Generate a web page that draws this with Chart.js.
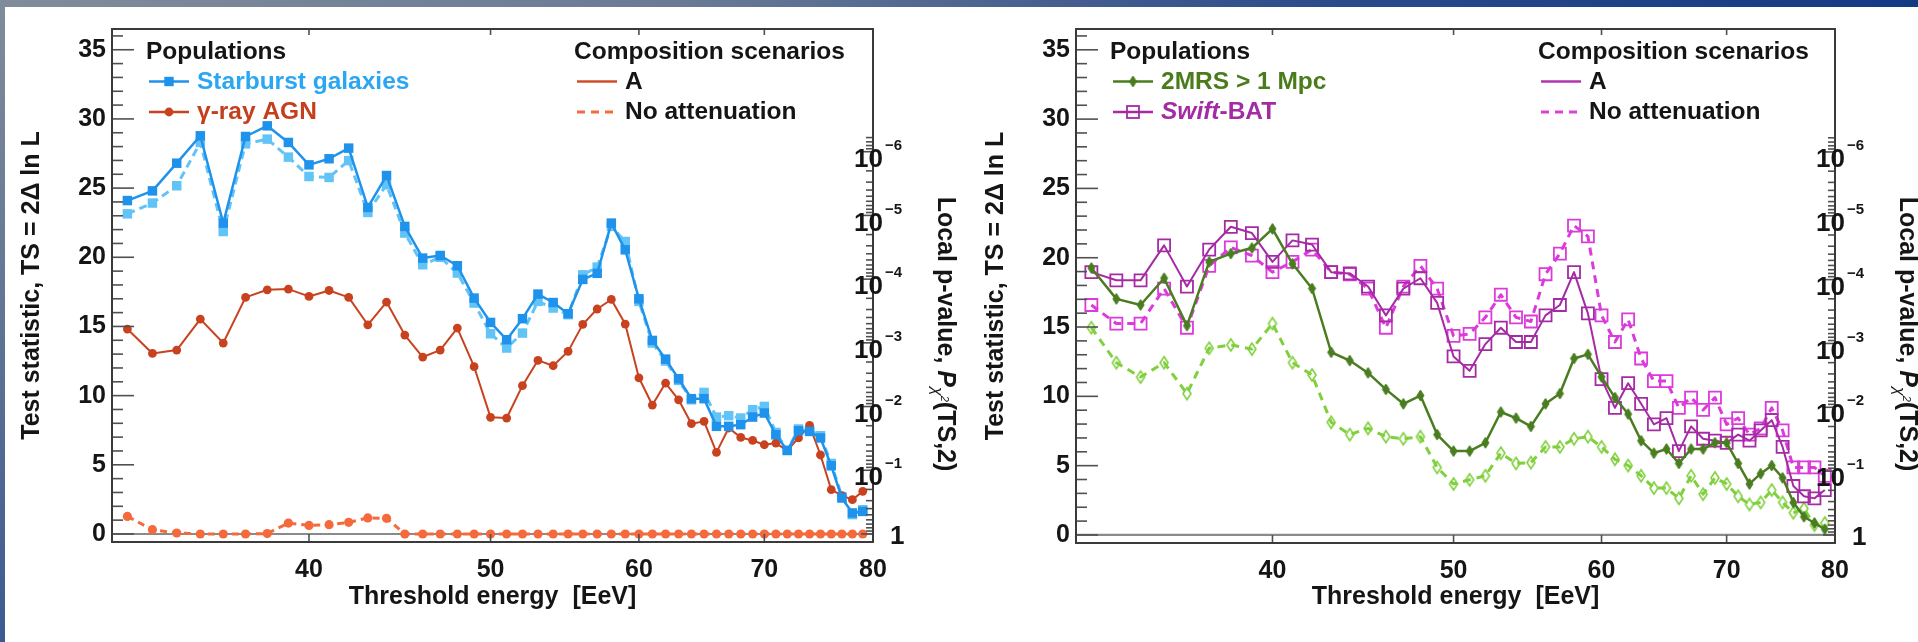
<!DOCTYPE html>
<html>
<head>
<meta charset="utf-8">
<script src="https://cdn.jsdelivr.net/npm/chart.js@4.4.1/dist/chart.umd.min.js"></script>
<style>
  html, body { margin: 0; padding: 0; background: #fff; width: 1918px; height: 642px; overflow: hidden; }
  #topbar { position: absolute; left: 0; top: 0; width: 1918px; height: 7px; z-index: 2;
    background: linear-gradient(to right, #808c9a 0%, #6b7b95 35%, #2a4a8a 70%, #143a84 100%); }
  #leftbar { position: absolute; left: 0; top: 0; width: 5px; height: 642px; z-index: 2;
    background: linear-gradient(to bottom, #808c9a 0%, #5a6f93 60%, #3c5a92 100%); }
  canvas { position: absolute; top: 0; }
</style>
</head>
<body>
<div id="topbar"></div>
<div id="leftbar"></div>
<canvas id="panelLeft" width="960" height="642" style="left:0px"></canvas>
<canvas id="panelRight" width="958" height="642" style="left:960px"></canvas>
<script>
// Threshold energies of the scan [EeV]
const energies = [32,33,34,35,36,37,38,39,40,41,42,43,44,45,46,47,48,49,50,51,52,53,54,55,
                  56,57,58,59,60,61,62,63,64,65,66,67,68,69,70,71,72,73,74,75,76,77,78,79];

// Axis ticks
const xTickValues = [40, 50, 60, 70, 80];
const yTickValues = [0, 5, 10, 15, 20, 25, 30, 35];
const pValueExponents = [0, 1, 2, 3, 4, 5, 6];   // local p-value = 10^-k

// Test statistic, starburst galaxies
const starburstA      = [24.10,24.80,26.80,28.78,22.47,28.73,29.50,28.30,26.68,27.12,27.89,23.60,
                         25.91,22.23,19.94,20.13,19.39,17.05,15.29,14.04,15.56,17.34,16.73,15.92,
                         18.40,18.84,22.47,20.54,17.00,13.99,12.64,11.22,9.78,9.78,7.78,7.78,
                         7.90,8.45,8.74,7.17,6.04,7.46,7.41,6.94,4.93,2.60,1.52,1.63];
const starburstNoAtt  = [23.14,23.92,25.17,28.30,21.86,28.20,28.54,27.24,25.84,25.77,26.99,23.24,
                         25.24,21.75,19.46,20.00,18.86,16.69,14.47,13.44,14.52,16.81,16.33,15.85,
                         18.73,19.29,22.23,21.14,16.81,13.80,12.50,11.10,9.70,10.23,8.45,8.55,
                         8.38,8.98,9.22,7.34,6.04,7.59,7.50,7.10,5.10,2.70,1.40,1.75];
// Test statistic, gamma-ray AGN
const agnA            = [14.81,13.05,13.29,15.53,13.80,17.10,17.65,17.70,17.17,17.60,17.10,15.12,
                         16.76,14.38,12.79,13.29,14.88,12.09,8.43,8.38,10.72,12.55,12.16,13.20,
                         15.15,16.26,16.95,15.17,11.29,9.32,10.91,9.70,7.97,8.14,5.90,7.66,
                         6.98,6.76,6.45,6.57,6.02,6.94,7.85,5.71,3.20,2.77,2.48,3.08];
const agnNoAtt        = [1.27,0.31,0.07,0,0,0,0.03,0.79,0.62,0.67,0.84,1.16,
                         1.13,0,0,0,0,0,0,0,0,0,0,0,
                         0,0,0,0,0,0,0,0,0,0,0,0,
                         0,0,0,0,0,0,0,0,0,0,0,0];
// Test statistic, 2MRS galaxies beyond 1 Mpc
const mrsA            = [19.26,17.03,16.59,18.52,15.10,19.70,20.30,20.70,22.08,19.56,17.78,13.18,
                         12.58,11.69,10.50,9.46,10.06,7.24,6.05,6.05,6.65,8.87,8.43,7.83,
                         9.46,10.20,12.73,13.03,11.40,9.91,8.72,6.80,5.90,6.20,5.16,6.20,
                         6.20,6.65,6.65,5.16,3.68,4.42,5.01,4.12,2.34,1.31,0.86,0.42];
const mrsNoAtt        = [14.95,12.43,11.39,12.43,10.20,13.47,13.71,13.41,15.25,12.43,11.54,8.13,
                         7.24,7.69,7.09,6.94,7.09,4.87,3.68,3.98,4.27,5.90,5.16,5.22,
                         6.35,6.35,6.94,7.09,6.35,5.46,5.01,4.27,3.38,3.38,2.64,4.27,
                         2.94,4.12,3.68,2.79,2.20,2.35,3.24,2.35,1.60,1.90,0.71,0.86];
// Test statistic, Swift-BAT AGN
const batA            = [18.96,18.37,18.37,20.89,17.92,20.59,22.23,21.78,19.70,21.25,20.95,18.96,
                         18.87,17.92,15.84,17.77,18.52,16.74,12.88,11.84,13.77,14.95,13.92,13.92,
                         15.84,16.59,18.96,15.99,11.24,9.17,10.95,9.46,7.98,8.43,6.05,7.83,
                         6.94,6.80,6.65,7.24,6.80,7.54,8.28,6.35,3.53,2.79,2.64,3.24];
const batNoAtt        = [16.59,15.25,15.25,17.77,14.95,19.41,20.74,20.15,18.96,19.70,20.59,18.96,
                         18.81,17.77,14.95,17.92,19.41,17.77,14.36,14.50,15.70,17.33,15.70,15.40,
                         18.81,20.30,22.32,21.54,15.84,13.92,15.55,12.73,11.10,11.10,9.17,9.91,
                         9.02,9.91,7.98,8.43,7.24,7.69,9.17,7.54,4.87,4.87,4.87,4.27];

const FONT = '"Liberation Sans", Arial, Helvetica, sans-serif';
const INK = '#151515';
const TS_PER_DECADE = 2 * Math.LN10;   // TS = -2 ln p for a chi2 with 2 dof
const P_AXIS_TOP_TS = 28.7;

// Marker sprites: thin diamonds
function diamondSprite(w, h, fill, stroke, lw) {
  const c = document.createElement('canvas');
  c.width = Math.ceil(w + 4); c.height = Math.ceil(h + 4);
  const g = c.getContext('2d');
  const cx = c.width / 2, cy = c.height / 2;
  g.beginPath();
  g.moveTo(cx, cy - h / 2); g.lineTo(cx + w / 2, cy); g.lineTo(cx, cy + h / 2); g.lineTo(cx - w / 2, cy);
  g.closePath();
  if (fill) { g.fillStyle = fill; g.fill(); }
  if (stroke) { g.strokeStyle = stroke; g.lineWidth = lw; g.stroke(); }
  return c;
}

const COL = {
  sbgA: '#1f92ec', sbgNA: '#62c4f6', sbgText: '#2ba6f2',
  agnA: '#c9421f', agnNA: '#f46a3c', agnText: '#c63f1c',
  mrsA: '#4a7d20', mrsNA: '#80d03e', mrsText: '#4a7c1c',
  batA: '#a52ba5', batNA: '#db3bdb', batText: '#a32ca3'
};
const mrsDiamond = diamondSprite(7, 11, COL.mrsA, COL.mrsA, 1);
const mrsOpenDiamond = diamondSprite(8, 12, null, COL.mrsNA, 1.6);

function series(values, opts) {
  return Object.assign({
    data: energies.map((e, i) => ({ x: e, y: values[i] })),
    fill: false, tension: 0, borderJoinStyle: 'round'
  }, opts);
}

function drawLine(ctx, x1, y1, x2, y2) {
  ctx.beginPath(); ctx.moveTo(x1, y1); ctx.lineTo(x2, y2); ctx.stroke();
}

function drawMarker(ctx, kind, x, y, color) {
  ctx.save();
  if (kind === 'square') {
    ctx.fillStyle = color; ctx.fillRect(x - 4.7, y - 4.7, 9.4, 9.4);
  } else if (kind === 'circle') {
    ctx.fillStyle = color; ctx.beginPath(); ctx.arc(x, y, 4.4, 0, Math.PI * 2); ctx.fill();
  } else if (kind === 'openSquare') {
    ctx.strokeStyle = color; ctx.lineWidth = 1.8; ctx.strokeRect(x - 6, y - 6, 12, 12);
  } else if (kind === 'diamond') {
    ctx.drawImage(mrsDiamond, x - mrsDiamond.width / 2, y - mrsDiamond.height / 2);
  }
  ctx.restore();
}

function drawPieces(ctx, x, y, pieces) {
  let cx = x;
  for (const p of pieces) {
    ctx.font = p.font; ctx.fillStyle = p.color;
    ctx.fillText(p.text, cx, y);
    cx += ctx.measureText(p.text).width;
  }
}

// Frame, tick marks, p-value axis, titles and legend of one panel
const decorPlugin = {
  id: 'decor',
  beforeDatasetsDraw(chart) {
    const { ctx, chartArea: a, scales: { y } } = chart;
    const y0 = y.getPixelForValue(0);
    ctx.save();
    ctx.strokeStyle = '#8a8a8a'; ctx.lineWidth = 2.2;
    drawLine(ctx, a.left, y0, a.right, y0);
    ctx.restore();
  },
  afterDraw(chart) {
    const { ctx, chartArea: a, scales: { x, y, p } } = chart;
    const cfg = chart.options.plugins.decor;
    ctx.save();
    // tick marks
    ctx.strokeStyle = '#505050'; ctx.lineWidth = 1.6;
    for (let v = 0; v <= 36; v++) {
      const yy = y.getPixelForValue(v);
      drawLine(ctx, a.left, yy, a.left + (v % 5 === 0 ? 22 : 11), yy);
    }
    for (const v of xTickValues) {
      const xx = x.getPixelForValue(v);
      drawLine(ctx, xx, a.bottom, xx, a.bottom - 8);
      drawLine(ctx, xx, a.top, xx, a.top + 6);
    }
    // p-value axis ticks (decades and sub-decades)
    for (const k of pValueExponents) {
      const yy = p.getPixelForValue(k * TS_PER_DECADE);
      drawLine(ctx, a.right - 12, yy, a.right, yy);
    }
    for (let k = 1; k <= 7; k++) {
      for (let m = 2; m <= 9; m++) {
        const ts = 2 * (k * Math.LN10 - Math.log(m));
        if (ts < 0 || ts > P_AXIS_TOP_TS) continue;
        const yy = p.getPixelForValue(ts);
        drawLine(ctx, a.right - 7, yy, a.right, yy);
      }
    }
    // frame
    ctx.strokeStyle = '#3a3a3a'; ctx.lineWidth = 2;
    ctx.strokeRect(a.left, a.top, a.right - a.left, a.bottom - a.top);

    // p-value axis labels
    ctx.fillStyle = INK; ctx.textBaseline = 'middle'; ctx.textAlign = 'left';
    for (const k of pValueExponents) {
      const yy = p.getPixelForValue(k * TS_PER_DECADE);
      if (k === 0) {
        ctx.font = `bold 26px ${FONT}`;
        ctx.fillText('1', a.right + 17, yy + 2.5);
      } else {
        ctx.font = `bold 26px ${FONT}`;
        ctx.fillText('10', a.right - 19, yy + 8);
        ctx.font = `bold 15px ${FONT}`;
        ctx.fillText('\u2212' + k, a.right + 12, yy - 6);
      }
    }

    // p-value axis title, rotated clockwise
    const titleParts = [
      { text: 'Local p-value, ', font: `bold 25px ${FONT}`, dy: 0 },
      { text: 'P', font: `italic bold 25px ${FONT}`, dy: 0 },
      { text: '\u03C7', font: `italic 16px ${FONT}`, dy: 6 },
      { text: '2', font: `italic 11px ${FONT}`, dy: -3 },
      { text: '(TS,2)', font: `bold 25px ${FONT}`, dy: 0 }
    ];
    let total = 0;
    for (const t of titleParts) { ctx.font = t.font; total += ctx.measureText(t.text).width; }
    ctx.save();
    ctx.translate(a.right + 65, 334);
    ctx.rotate(Math.PI / 2);
    ctx.textBaseline = 'alphabetic';
    let u = -total / 2;
    for (const t of titleParts) {
      ctx.font = t.font; ctx.fillStyle = INK;
      ctx.fillText(t.text, u, t.dy);
      u += ctx.measureText(t.text).width;
    }
    ctx.restore();

    // legend
    const L = cfg.legend;
    ctx.textBaseline = 'alphabetic'; ctx.textAlign = 'left';
    const baseH = a.top + 30, row1 = a.top + 59.5, row2 = a.top + 90;
    const bold = `bold 24.5px ${FONT}`, boldIt = `italic bold 24.5px ${FONT}`;
    ctx.font = bold; ctx.fillStyle = INK;
    ctx.fillText('Populations', a.left + 34, baseH);
    ctx.fillText('Composition scenarios', a.left + 462, baseH);
    [row1, row2].forEach((by, i) => {
      const e = L.populations[i];
      const ly = by - 7;
      ctx.strokeStyle = e.color; ctx.lineWidth = 2.4; ctx.setLineDash([]);
      drawLine(ctx, a.left + 37, ly, a.left + 77, ly);
      drawMarker(ctx, e.marker, a.left + 57, ly, e.color);
      drawPieces(ctx, a.left + 85, by, e.label.map(s => ({ text: s.text, font: s.italic ? boldIt : bold, color: e.textColor })));
      const s = L.scenarios[i];
      ctx.strokeStyle = s.color; ctx.lineWidth = s.dash ? 3 : 2.4;
      ctx.setLineDash(s.dash ? [8, 6] : []);
      drawLine(ctx, a.left + 465, ly, a.left + 505, ly);
      ctx.setLineDash([]);
      ctx.font = bold; ctx.fillStyle = INK;
      ctx.fillText(s.text, a.left + 513, by);
    });
    ctx.restore();
  }
};

function makePanel(canvasId, frame, datasets, legend) {
  const canvas = document.getElementById(canvasId);
  const W = canvas.width, H = canvas.height;
  const tickFont = { family: FONT, size: 25, weight: 'bold' };
  const titleFont = { family: FONT, size: 25, weight: 'bold' };
  return new Chart(canvas.getContext('2d'), {
    type: 'line',
    data: { datasets },
    options: {
      responsive: false, animation: false, devicePixelRatio: 1,
      layout: { padding: { left: 0, right: 0, top: frame.top, bottom: 0 }, autoPadding: false },
      events: [],
      plugins: { legend: { display: false }, tooltip: { enabled: false }, decor: { legend } },
      scales: {
        x: {
          type: 'logarithmic', min: 31.4, max: 80, position: 'bottom',
          afterBuildTicks: s => { s.ticks = xTickValues.map(v => ({ value: v })); },
          afterFit: s => { s.height = H - frame.bottom; },
          ticks: { callback: v => String(v), font: tickFont, color: INK, padding: 13,
                   autoSkip: false, maxRotation: 0, minRotation: 0 },
          grid: { display: false, drawTicks: false }, border: { display: false },
          title: { display: true, text: 'Threshold energy  [EeV]', font: titleFont, color: INK,
                   padding: { top: 0, bottom: 30 } }
        },
        y: {
          type: 'linear', min: -0.58, max: 36.5, position: 'left',
          afterBuildTicks: s => { s.ticks = yTickValues.map(v => ({ value: v })); },
          afterFit: s => { s.width = frame.left; },
          ticks: { font: tickFont, color: INK, padding: 6, autoSkip: false },
          grid: { display: false, drawTicks: false }, border: { display: false },
          title: { display: true, text: 'Test statistic, TS = 2\u0394 ln L', font: titleFont, color: INK,
                   padding: { top: frame.left - 95, bottom: 0 } }
        },
        p: {
          type: 'linear', min: -0.58, max: 36.5, position: 'right',
          afterBuildTicks: s => { s.ticks = pValueExponents.map(k => ({ value: k * TS_PER_DECADE })); },
          afterFit: s => { s.width = W - frame.right; },
          ticks: { display: false }, grid: { display: false, drawTicks: false }, border: { display: false }
        }
      }
    },
    plugins: [decorPlugin]
  });
}

// Left panel: starburst galaxies and gamma-ray AGN
makePanel('panelLeft', { left: 112, right: 873, top: 29, bottom: 542 }, [
  series(starburstA, { label: 'Starburst galaxies, A', borderColor: COL.sbgA, borderWidth: 2.5,
    pointStyle: 'rect', pointRadius: 6.7, pointBackgroundColor: COL.sbgA, pointBorderColor: COL.sbgA, pointBorderWidth: 0 }),
  series(agnA, { label: '\u03B3-ray AGN, A', borderColor: COL.agnA, borderWidth: 2,
    pointStyle: 'circle', pointRadius: 4.4, pointBackgroundColor: COL.agnA, pointBorderColor: COL.agnA, pointBorderWidth: 0 }),
  series(starburstNoAtt, { label: 'Starburst galaxies, no attenuation', borderColor: COL.sbgNA, borderWidth: 3,
    borderDash: [8, 5], pointStyle: 'rect', pointRadius: 6.7, pointBackgroundColor: COL.sbgNA,
    pointBorderColor: COL.sbgNA, pointBorderWidth: 0 }),
  series(agnNoAtt, { label: '\u03B3-ray AGN, no attenuation', borderColor: COL.agnNA, borderWidth: 3,
    borderDash: [7, 5], pointStyle: 'circle', pointRadius: 4.6, pointBackgroundColor: COL.agnNA,
    pointBorderColor: COL.agnNA, pointBorderWidth: 0 })
], {
  populations: [
    { label: [{ text: 'Starburst galaxies' }], color: COL.sbgA, textColor: COL.sbgText, marker: 'square' },
    { label: [{ text: '\u03B3-ray AGN' }], color: COL.agnA, textColor: COL.agnText, marker: 'circle' }
  ],
  scenarios: [
    { text: 'A', color: '#d14c2a', dash: false },
    { text: 'No attenuation', color: COL.agnNA, dash: true }
  ]
});

// Right panel: 2MRS galaxies and Swift-BAT AGN
makePanel('panelRight', { left: 116, right: 875, top: 29, bottom: 543 }, [
  series(mrsA, { label: '2MRS > 1 Mpc, A', borderColor: COL.mrsA, borderWidth: 2.5,
    pointStyle: mrsDiamond, pointRadius: 6 }),
  series(batA, { label: 'Swift-BAT, A', borderColor: COL.batA, borderWidth: 2,
    pointStyle: 'rect', pointRadius: 8.5, pointBackgroundColor: 'rgba(0,0,0,0)', pointBorderColor: COL.batA,
    pointBorderWidth: 1.8 }),
  series(mrsNoAtt, { label: '2MRS > 1 Mpc, no attenuation', borderColor: COL.mrsNA, borderWidth: 3,
    borderDash: [8, 6], pointStyle: mrsOpenDiamond, pointRadius: 6 }),
  series(batNoAtt, { label: 'Swift-BAT, no attenuation', borderColor: COL.batNA, borderWidth: 3,
    borderDash: [8, 6], pointStyle: 'rect', pointRadius: 8.5, pointBackgroundColor: 'rgba(0,0,0,0)',
    pointBorderColor: COL.batNA, pointBorderWidth: 1.8 })
], {
  populations: [
    { label: [{ text: '2MRS > 1 Mpc' }], color: COL.mrsA, textColor: COL.mrsText, marker: 'diamond' },
    { label: [{ text: 'Swift', italic: true }, { text: '-BAT' }], color: COL.batA, textColor: COL.batText, marker: 'openSquare' }
  ],
  scenarios: [
    { text: 'A', color: '#b035b0', dash: false },
    { text: 'No attenuation', color: '#e040e0', dash: true }
  ]
});
</script>
</body>
</html>
